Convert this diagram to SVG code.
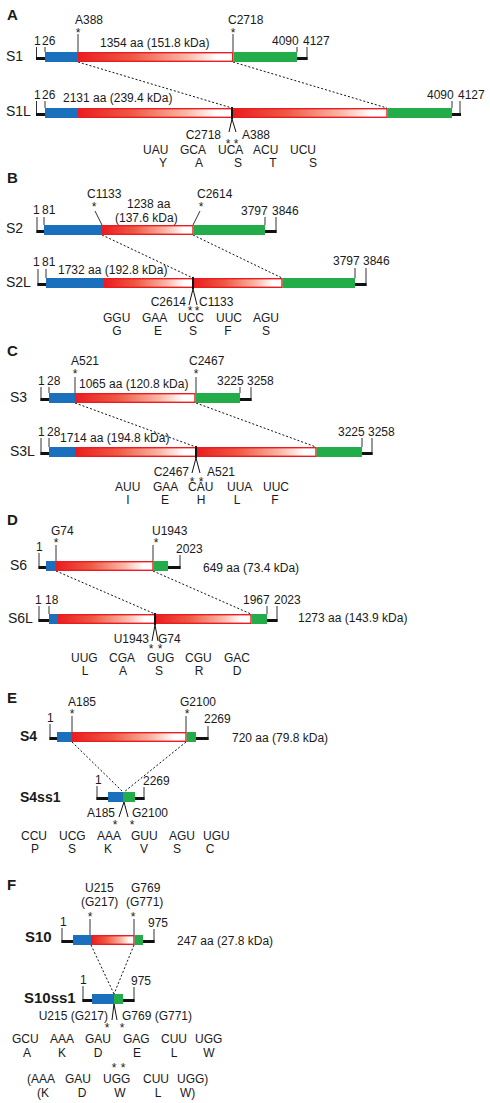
<svg xmlns="http://www.w3.org/2000/svg" width="490" height="1103" viewBox="0 0 490 1103">
<style>
text{font-family:"Liberation Sans",Arial,sans-serif;font-size:12px;fill:#1a1a1a}
.pl{font-size:15px;font-weight:bold}
.nm{font-size:14px}
.nb{font-size:14px;font-weight:bold}
.nb15{font-size:15px;font-weight:bold}
.m{text-anchor:middle}
.e{text-anchor:end}
.blue{fill:#1b70be}
.green{fill:#22ad4a}
.red{fill:url(#rg);stroke:#ec1c24;stroke-width:1.4}
.bk{fill:#111}
.t{stroke:#333;stroke-width:1;fill:none}
.dot{stroke:#111;stroke-width:1;stroke-dasharray:2 2;fill:none}
.v{stroke:#111;stroke-width:1;fill:none}
.j{stroke:#111;stroke-width:2}
</style>
<defs>
<linearGradient id="rg" x1="0" y1="0" x2="1" y2="0">
<stop offset="0" stop-color="#e91e1f"/>
<stop offset="0.35" stop-color="#ee5a44"/>
<stop offset="0.7" stop-color="#f8b8a6"/>
<stop offset="0.9" stop-color="#ffffff"/>
<stop offset="1" stop-color="#ffffff"/>
</linearGradient>
</defs>

<!-- Panel labels -->
<text class="pl" x="7" y="20">A</text>
<text class="pl" x="7" y="183">B</text>
<text class="pl" x="7" y="356">C</text>
<text class="pl" x="7" y="525">D</text>
<text class="pl" x="7" y="703">E</text>
<text class="pl" x="7" y="890">F</text>

<g id="connectors">
<line class="dot" x1="78" y1="62" x2="232" y2="108"/>
<line class="dot" x1="233" y1="62" x2="387" y2="108"/>
<line class="dot" x1="102" y1="235" x2="193" y2="278"/>
<line class="dot" x1="193" y1="235" x2="282" y2="278"/>
<line class="dot" x1="75" y1="403" x2="196" y2="447"/>
<line class="dot" x1="196" y1="403" x2="316" y2="447"/>
<line class="dot" x1="56" y1="571" x2="155" y2="614"/>
<line class="dot" x1="153" y1="571" x2="251" y2="614"/>
<line class="dot" x1="72" y1="742" x2="123" y2="792"/>
<line class="dot" x1="186" y1="742" x2="124" y2="792"/>
<line class="dot" x1="91" y1="945" x2="114" y2="994"/>
<line class="dot" x1="134" y1="945" x2="114" y2="994"/>
</g>

<!-- ===== A ===== -->
<g id="S1">
<text class="nm" x="6" y="61">S1</text>
<text x="75" y="24">A388</text>
<text class="m" x="78" y="37">*</text>
<line class="t" x1="78" y1="34" x2="78" y2="52"/>
<text x="228" y="24">C2718</text>
<text class="m" x="233" y="37">*</text>
<line class="t" x1="233" y1="34" x2="233" y2="52"/>
<text x="34" y="45">1</text>
<text x="42" y="45">26</text>
<text x="100" y="47">1354 aa (151.8 kDa)</text>
<text x="272" y="45">4090</text>
<text x="303" y="45">4127</text>
<line class="t" x1="36.5" y1="47" x2="36.5" y2="60"/>
<line class="t" x1="45" y1="47" x2="45" y2="52"/>
<line class="t" x1="297" y1="47" x2="297" y2="52"/>
<line class="t" x1="307" y1="47" x2="307" y2="60"/>
<rect class="bk" x="36" y="57" width="10" height="3"/>
<rect class="bk" x="296" y="57" width="11.5" height="3"/>
<rect class="blue" x="45" y="52" width="33" height="10"/>
<rect class="red" x="78.7" y="52.7" width="154" height="8.6"/>
<rect class="green" x="233.4" y="52" width="63.6" height="10"/>
</g>
<g id="S1L">
<text class="nm" x="6" y="116">S1L</text>
<text x="34" y="99">1</text>
<text x="42" y="99">26</text>
<text x="63" y="102">2131 aa (239.4 kDa)</text>
<text x="427" y="99">4090</text>
<text x="458" y="99">4127</text>
<line class="t" x1="36.5" y1="101" x2="36.5" y2="116"/>
<line class="t" x1="45" y1="101" x2="45" y2="108"/>
<line class="t" x1="452" y1="101" x2="452" y2="108"/>
<line class="t" x1="460" y1="101" x2="460" y2="116"/>
<rect class="bk" x="36" y="113" width="10" height="3"/>
<rect class="bk" x="451" y="113" width="10" height="3"/>
<rect class="blue" x="45" y="108" width="33" height="10"/>
<rect class="red" x="78.7" y="108.7" width="153.3" height="8.6"/>
<rect class="red" x="232.7" y="108.7" width="154.3" height="8.6"/>
<rect class="green" x="387.7" y="108" width="64.3" height="10"/>
<line class="j" x1="232" y1="107" x2="232" y2="119"/>
<polyline class="v" points="229,132 232,119 236,132"/>
<text class="e" x="221" y="139">C2718</text>
<text x="242" y="139">A388</text>
<text class="m" x="228" y="148">*</text>
<text class="m" x="236" y="148">*</text>
<text x="143" y="154">UAU</text><text x="180" y="154">GCA</text><text x="218" y="154">UCA</text><text x="253" y="154">ACU</text><text x="290" y="154">UCU</text>
<text class="m" x="163" y="167">Y</text><text class="m" x="199" y="167">A</text><text class="m" x="238" y="167">S</text><text class="m" x="273" y="167">T</text><text class="m" x="313" y="167">S</text>
</g>

<!-- ===== B ===== -->
<g id="S2">
<text class="nm" x="6" y="233">S2</text>
<text x="87" y="198">C1133</text>
<text class="m" x="94" y="211">*</text>
<line class="t" x1="95" y1="211" x2="102" y2="225"/>
<text x="197" y="198">C2614</text>
<text class="m" x="201" y="211">*</text>
<line class="t" x1="200" y1="211" x2="193" y2="225"/>
<text x="127" y="208">1238 aa</text>
<text x="115" y="222">(137.6 kDa)</text>
<text x="33" y="214">1</text>
<text x="42" y="214">81</text>
<text x="241" y="215">3797</text>
<text x="272" y="215">3846</text>
<line class="t" x1="37" y1="217" x2="37" y2="233"/>
<line class="t" x1="44" y1="217" x2="44" y2="225"/>
<line class="t" x1="265" y1="217" x2="265" y2="225"/>
<line class="t" x1="276" y1="217" x2="276" y2="233"/>
<rect class="bk" x="36.5" y="230" width="8" height="3"/>
<rect class="bk" x="264" y="230" width="12.5" height="3"/>
<rect class="blue" x="44" y="225" width="58" height="10"/>
<rect class="red" x="102.7" y="225.7" width="90.3" height="8.6"/>
<rect class="green" x="193.7" y="225" width="71.3" height="10"/>
</g>
<g id="S2L">
<text class="nm" x="6" y="287">S2L</text>
<text x="33" y="266">1</text>
<text x="42" y="266">81</text>
<text x="58" y="274">1732 aa (192.8 kDa)</text>
<text x="333" y="265">3797</text>
<text x="363" y="265">3846</text>
<line class="t" x1="38" y1="269" x2="38" y2="286"/>
<line class="t" x1="46" y1="269" x2="46" y2="278"/>
<line class="t" x1="355" y1="268" x2="355" y2="278"/>
<line class="t" x1="366" y1="268" x2="366" y2="286"/>
<rect class="bk" x="37.5" y="283" width="9" height="3"/>
<rect class="bk" x="354" y="283" width="12.5" height="3"/>
<rect class="blue" x="46" y="278" width="58" height="10"/>
<rect class="red" x="104.7" y="278.7" width="88.3" height="8.6"/>
<rect class="red" x="193.7" y="278.7" width="88.3" height="8.6"/>
<rect class="green" x="282.7" y="278" width="72.3" height="10"/>
<line class="j" x1="193" y1="277" x2="193" y2="289"/>
<polyline class="v" points="189,305 193,289 197,305"/>
<text class="e" x="186" y="306">C2614</text>
<text x="199" y="306">C1133</text>
<text class="m" x="190" y="315">*</text>
<text class="m" x="197" y="315">*</text>
<text x="103" y="322">GGU</text><text x="142" y="322">GAA</text><text x="178" y="322">UCC</text><text x="216" y="322">UUC</text><text x="253" y="322">AGU</text>
<text class="m" x="117" y="335">G</text><text class="m" x="158" y="335">E</text><text class="m" x="193" y="335">S</text><text class="m" x="228" y="335">F</text><text class="m" x="266" y="335">S</text>
</g>

<!-- ===== C ===== -->
<g id="S3">
<text class="nm" x="10" y="402">S3</text>
<text x="71" y="365">A521</text>
<text class="m" x="75" y="378">*</text>
<line class="t" x1="75" y1="377" x2="75" y2="393"/>
<text x="189" y="365">C2467</text>
<text class="m" x="196" y="378">*</text>
<line class="t" x1="196" y1="377" x2="196" y2="393"/>
<text x="38" y="385">1</text>
<text x="47" y="385">28</text>
<text x="79" y="388">1065 aa (120.8 kDa)</text>
<text x="217" y="385">3225</text>
<text x="247" y="385">3258</text>
<line class="t" x1="41" y1="387" x2="41" y2="401"/>
<line class="t" x1="49" y1="387" x2="49" y2="393"/>
<line class="t" x1="240" y1="387" x2="240" y2="393"/>
<line class="t" x1="251" y1="387" x2="251" y2="401"/>
<rect class="bk" x="40.5" y="398" width="9" height="3"/>
<rect class="bk" x="239" y="398" width="12.5" height="3"/>
<rect class="blue" x="49" y="393" width="26" height="10"/>
<rect class="red" x="75.7" y="393.7" width="119.3" height="8.6"/>
<rect class="green" x="195.7" y="393" width="44.3" height="10"/>
</g>
<g id="S3L">
<text class="nm" x="10" y="456">S3L</text>
<text x="38" y="436">1</text>
<text x="47" y="436">28</text>
<text x="60" y="442">1714 aa (194.8 kDa)</text>
<text x="338" y="436">3225</text>
<text x="368" y="436">3258</text>
<line class="t" x1="41" y1="438" x2="41" y2="455"/>
<line class="t" x1="49" y1="438" x2="49" y2="447"/>
<line class="t" x1="362" y1="438" x2="362" y2="447"/>
<line class="t" x1="372" y1="438" x2="372" y2="455"/>
<rect class="bk" x="40.5" y="452" width="9" height="3"/>
<rect class="bk" x="361" y="452" width="11.5" height="3"/>
<rect class="blue" x="49" y="447" width="26" height="10"/>
<rect class="red" x="75.7" y="447.7" width="120.3" height="8.6"/>
<rect class="red" x="196.7" y="447.7" width="119.3" height="8.6"/>
<rect class="green" x="316.7" y="447" width="45.3" height="10"/>
<line class="j" x1="196" y1="446" x2="196" y2="458"/>
<polyline class="v" points="192,473 196,458 200,473"/>
<text class="e" x="189" y="476">C2467</text>
<text x="207" y="476">A521</text>
<text class="m" x="192" y="486">*</text>
<text class="m" x="201" y="486">*</text>
<text x="115" y="491">AUU</text><text x="153" y="491">GAA</text><text x="188" y="491">CAU</text><text x="227" y="491">UUA</text><text x="263" y="491">UUC</text>
<text class="m" x="128" y="504">I</text><text class="m" x="165" y="504">E</text><text class="m" x="201" y="504">H</text><text class="m" x="237" y="504">L</text><text class="m" x="275" y="504">F</text>
</g>

<!-- ===== D ===== -->
<g id="S6">
<text class="nm" x="10" y="570">S6</text>
<text x="51" y="535">G74</text>
<text class="m" x="56" y="547">*</text>
<line class="t" x1="56" y1="545" x2="56" y2="561"/>
<text x="152" y="535">U1943</text>
<text class="m" x="156" y="547">*</text>
<line class="t" x1="153" y1="545" x2="153" y2="561"/>
<text x="36" y="551">1</text>
<text x="176" y="553">2023</text>
<line class="t" x1="39" y1="553" x2="39" y2="569"/>
<line class="t" x1="180" y1="555" x2="180" y2="569"/>
<rect class="bk" x="38.5" y="566" width="8" height="3"/>
<rect class="bk" x="167" y="566" width="13.5" height="3"/>
<rect class="blue" x="46" y="561" width="10" height="10"/>
<rect class="red" x="56.7" y="561.7" width="96.3" height="8.6"/>
<rect class="green" x="153.7" y="561" width="14.3" height="10"/>
<text x="203" y="572">649 aa (73.4 kDa)</text>
</g>
<g id="S6L">
<text class="nm" x="8" y="623">S6L</text>
<text x="35" y="604">1</text>
<text x="45" y="604">18</text>
<text x="243" y="604">1967</text>
<text x="274" y="604">2023</text>
<line class="t" x1="39" y1="606" x2="39" y2="622"/>
<line class="t" x1="49" y1="606" x2="49" y2="614"/>
<line class="t" x1="267" y1="606" x2="267" y2="614"/>
<line class="t" x1="277" y1="606" x2="277" y2="622"/>
<rect class="bk" x="38.5" y="619" width="11" height="3"/>
<rect class="bk" x="266" y="619" width="11.5" height="3"/>
<rect class="blue" x="49" y="614" width="9" height="10"/>
<rect class="red" x="58.7" y="614.7" width="96.3" height="8.6"/>
<rect class="red" x="155.7" y="614.7" width="95.3" height="8.6"/>
<rect class="green" x="251.7" y="614" width="15.3" height="10"/>
<line class="j" x1="155" y1="613" x2="155" y2="625"/>
<polyline class="v" points="152,641 155,625 158,641"/>
<text x="298" y="622">1273 aa (143.9 kDa)</text>
<text class="e" x="149" y="643">U1943</text>
<text x="158" y="643">G74</text>
<text class="m" x="151" y="653">*</text>
<text class="m" x="160" y="653">*</text>
<text x="71" y="662">UUG</text><text x="109" y="662">CGA</text><text x="147" y="662">GUG</text><text x="185" y="662">CGU</text><text x="224" y="662">GAC</text>
<text class="m" x="85" y="675">L</text><text class="m" x="123" y="675">A</text><text class="m" x="159" y="675">S</text><text class="m" x="199" y="675">R</text><text class="m" x="237" y="675">D</text>
</g>

<!-- ===== E ===== -->
<g id="S4">
<text class="nb" x="20" y="741">S4</text>
<text x="68" y="706">A185</text>
<text class="m" x="72" y="718">*</text>
<line class="t" x1="72" y1="716" x2="72" y2="732"/>
<text x="180" y="706">G2100</text>
<text class="m" x="187" y="718">*</text>
<line class="t" x1="186" y1="716" x2="186" y2="732"/>
<text x="47" y="722">1</text>
<text x="204" y="723">2269</text>
<line class="t" x1="50" y1="724" x2="50" y2="740"/>
<line class="t" x1="208" y1="726" x2="208" y2="740"/>
<rect class="bk" x="49.5" y="737" width="8" height="3"/>
<rect class="bk" x="195" y="737" width="13.5" height="3"/>
<rect class="blue" x="57" y="732" width="15" height="10"/>
<rect class="red" x="72.7" y="732.7" width="113.3" height="8.6"/>
<rect class="green" x="186.7" y="732" width="9.3" height="10"/>
<text x="232" y="742">720 aa (79.8 kDa)</text>
</g>
<g id="S4ss1">
<text class="nb" x="20" y="802">S4ss1</text>
<text x="95" y="784">1</text>
<text x="143" y="785">2269</text>
<line class="t" x1="97" y1="786" x2="97" y2="800"/>
<line class="t" x1="144" y1="787" x2="144" y2="800"/>
<rect class="bk" x="96.5" y="797" width="12" height="3"/>
<rect class="bk" x="134" y="797" width="10.5" height="3"/>
<rect class="blue" x="108" y="792" width="15" height="10"/>
<rect class="green" x="123" y="792" width="12" height="10"/>
<polyline class="v" points="119,817 124,802 128,817"/>
<text class="e" x="115" y="817">A185</text>
<text x="132" y="817">G2100</text>
<text class="m" x="115" y="829">*</text>
<text class="m" x="132" y="829">*</text>
<text x="21" y="840">CCU</text><text x="59" y="840">UCG</text><text x="97" y="840">AAA</text><text x="131" y="840">GUU</text><text x="169" y="840">AGU</text><text x="203" y="840">UGU</text>
<text class="m" x="35" y="853">P</text><text class="m" x="72" y="853">S</text><text class="m" x="108" y="853">K</text><text class="m" x="144" y="853">V</text><text class="m" x="177" y="853">S</text><text class="m" x="210" y="853">C</text>
</g>

<!-- ===== F ===== -->
<g id="S10">
<text class="nb15" x="25" y="942">S10</text>
<text x="85" y="892">U215</text>
<text x="131" y="892">G769</text>
<text x="81" y="906">(G217)</text>
<text x="126" y="906">(G771)</text>
<text class="m" x="90" y="921">*</text>
<line class="t" x1="90" y1="919" x2="90" y2="935"/>
<text class="m" x="133" y="921">*</text>
<line class="t" x1="134" y1="919" x2="134" y2="935"/>
<text x="60" y="926">1</text>
<text x="148" y="927">975</text>
<line class="t" x1="62" y1="928" x2="62" y2="943"/>
<line class="t" x1="154" y1="929" x2="154" y2="943"/>
<rect class="bk" x="61.5" y="940" width="12" height="3"/>
<rect class="bk" x="142" y="940" width="12.5" height="3"/>
<rect class="blue" x="73" y="935" width="18" height="10"/>
<rect class="red" x="91.7" y="935.7" width="42.3" height="8.6"/>
<rect class="green" x="134.7" y="935" width="8.3" height="10"/>
<text x="177" y="945">247 aa (27.8 kDa)</text>
</g>
<g id="S10ss1">
<text class="nb15" x="24" y="1003">S10ss1</text>
<text x="80" y="984">1</text>
<text x="131" y="985">975</text>
<line class="t" x1="83" y1="986" x2="83" y2="1002"/>
<line class="t" x1="134" y1="987" x2="134" y2="1002"/>
<rect class="bk" x="82.5" y="999" width="10" height="3"/>
<rect class="bk" x="122" y="999" width="12.5" height="3"/>
<rect class="blue" x="92" y="994" width="22" height="10"/>
<rect class="green" x="114" y="994" width="9" height="10"/>
<polyline class="v" points="112,1020 114,1004 117,1020"/>
<text class="e" x="108" y="1020">U215 (G217)</text>
<text x="122" y="1020">G769 (G771)</text>
<text class="m" x="107" y="1032">*</text>
<text class="m" x="122" y="1032">*</text>
<text x="12" y="1043">GCU</text><text x="50" y="1043">AAA</text><text x="85" y="1043">GAU</text><text x="123" y="1043">GAG</text><text x="161" y="1043">CUU</text><text x="195" y="1043">UGG</text>
<text class="m" x="27" y="1057">A</text><text class="m" x="62" y="1057">K</text><text class="m" x="98" y="1057">D</text><text class="m" x="137" y="1057">E</text><text class="m" x="174" y="1057">L</text><text class="m" x="209" y="1057">W</text>
<text class="m" x="114" y="1072">*</text>
<text class="m" x="123" y="1072">*</text>
<text x="27" y="1083">(AAA</text><text x="65" y="1083">GAU</text><text x="103" y="1083">UGG</text><text x="143" y="1083">CUU</text><text x="177" y="1083">UGG)</text>
<text x="37" y="1097">(K</text><text class="m" x="82" y="1097">D</text><text class="m" x="120" y="1097">W</text><text class="m" x="158" y="1097">L</text><text x="180" y="1097">W)</text>
</g>
</svg>
